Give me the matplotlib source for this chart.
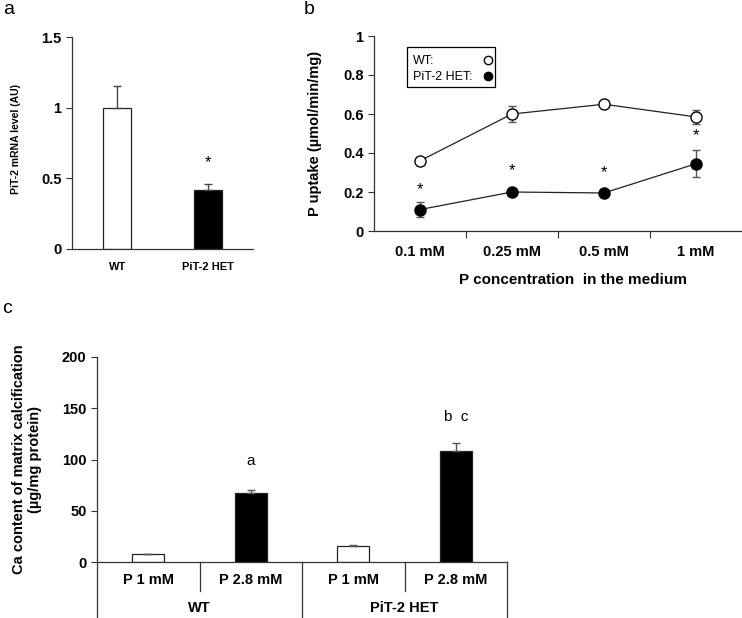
import numpy as np
import matplotlib
matplotlib.use("Agg")
import matplotlib.pyplot as plt
from matplotlib.patches import Rectangle

plt.rcParams['font.family'] = ['Liberation Sans', 'DejaVu Sans']

# --- Data ---
# panel a: PiT-2 mRNA level
a_groups = ["WT", "PiT-2 HET"]
a_values = [1.0, 0.42]
a_errors = [0.15, 0.04]

# panel b: P uptake
b_conc = ["0.1 mM", "0.25 mM", "0.5 mM", "1 mM"]
b_wt = [0.36, 0.60, 0.65, 0.585]
b_wt_err = [0.01, 0.04, 0.01, 0.035]
b_het = [0.11, 0.20, 0.195, 0.345]
b_het_err = [0.04, 0.01, 0.01, 0.07]
b_star_y = [0.21, 0.31, 0.30, 0.49]

# panel c: Ca content
c_conds = ["P 1 mM", "P 2.8 mM", "P 1 mM", "P 2.8 mM"]
c_genotypes = ["WT", "PiT-2 HET"]
c_values = [7.5, 67, 15.5, 108]
c_errors = [0.5, 3, 1, 8]
c_marks = ["", "a", "", "b  c"]
c_mark_y = [0, 92, 0, 135]

W, H = 742, 618
fig = plt.figure(figsize=(W / 100, H / 100), dpi=100)


def px_axes(x0, x1, y0, y1):
    # pixel box (left, right, top, bottom) -> figure fraction
    return fig.add_axes([x0 / W, 1 - y1 / H, (x1 - x0) / W, (y1 - y0) / H])


def style(ax):
    for s in ["top", "right"]:
        ax.spines[s].set_visible(False)
    for s in ["left", "bottom"]:
        ax.spines[s].set_color("#333333")
        ax.spines[s].set_linewidth(0.9)
    ax.tick_params(axis="y", direction="out", length=4, width=0.8, color="#333333")


# ---------- panel a ----------
axa = px_axes(72, 253, 37, 249)
style(axa)
xa = np.arange(len(a_groups))
axa.bar(xa, a_values, width=0.31, color=["white", "black"], edgecolor="#222222", linewidth=0.9,
        yerr=[[0, 0], a_errors], error_kw=dict(ecolor="#444444", elinewidth=1, capsize=3, capthick=1))
axa.set_xlim(-0.5, 1.5)
axa.set_ylim(0, 1.5)
axa.set_yticks([0, 0.5, 1, 1.5])
axa.set_yticklabels(["0", "0.5", "1", "1.5"], fontsize=10.5, fontweight="bold")
axa.set_xticks(xa)
axa.set_xticklabels(a_groups, fontsize=8, fontweight="bold")
axa.tick_params(axis="x", length=0, pad=9)
axa.set_ylabel("PiT-2 mRNA level (AU)", fontsize=7.5, fontweight="bold")
axa.yaxis.set_label_coords(-0.28, 0.52)
axa.text(1, a_values[1] + 0.19, "*", ha="center", va="center", fontsize=12)

# ---------- panel b ----------
axb = px_axes(374, 742, 36, 231)
style(axb)
xb = np.arange(len(b_conc))
axb.errorbar(xb, b_wt, yerr=b_wt_err, color="#222222", lw=0.9, marker="o", ms=8,
             mfc="white", mec="black", mew=1, ecolor="#555555", elinewidth=1, capsize=3)
axb.errorbar(xb, b_het, yerr=b_het_err, color="#222222", lw=0.9, marker="o", ms=8,
             mfc="black", mec="black", mew=1, ecolor="#555555", elinewidth=1, capsize=3)
for x, y in zip(xb, b_star_y):
    axb.text(x, y, "*", ha="center", va="center", fontsize=12)
axb.set_xlim(-0.5, 3.5)
axb.set_ylim(0, 1)
axb.set_yticks(np.arange(0, 1.01, 0.2))
axb.set_yticklabels(["0", "0.2", "0.4", "0.6", "0.8", "1"], fontsize=10.5, fontweight="bold")
axb.set_xticks([0.5, 1.5, 2.5])
axb.set_xticklabels([])
axb.set_xticks(xb, minor=True)
axb.set_xticklabels(b_conc, minor=True, fontsize=10.5, fontweight="bold")
axb.tick_params(axis="x", which="major", direction="out", length=5, width=0.8, color="#333333")
axb.tick_params(axis="x", which="minor", length=0, pad=10)
axb.set_ylabel("P uptake (\u00b5mol/min/mg)", fontsize=10.5, fontweight="bold")
axb.yaxis.set_label_coords(-0.14, 0.5)
axb.text(0.54, -0.25, "P concentration  in the medium", transform=axb.transAxes,
         ha="center", va="center", fontsize=11, fontweight="bold")

# legend box drawn by hand: label on the left, marker in a right-hand column
axb.add_patch(Rectangle((0.09, 0.738), 0.24, 0.206, transform=axb.transAxes, fill=False,
                        edgecolor="black", lw=0.9, clip_on=False))
for ty, face, lab in [(0.872, "white", "WT:"), (0.79, "black", "PiT-2 HET:")]:
    axb.text(0.105, ty, lab, transform=axb.transAxes, ha="left", va="center", fontsize=9)
    axb.plot([0.31], [ty + 0.005], transform=axb.transAxes, ls="None", marker="o", ms=6,
             mfc=face, mec="black", mew=1, clip_on=False)

# ---------- panel c ----------
axc = px_axes(97, 507, 357, 562)
style(axc)
xc = np.arange(len(c_conds))
axc.bar(xc, c_values, width=0.31, color=["white", "black", "white", "black"], edgecolor="#222222",
        linewidth=0.9, yerr=[[0] * 4, c_errors],
        error_kw=dict(ecolor="#555555", elinewidth=1, capsize=3, capthick=1))
for x, m, y in zip(xc, c_marks, c_mark_y):
    if m:
        axc.text(x, y, m, ha="center", va="bottom", fontsize=11)
axc.set_xlim(-0.5, 3.5)
axc.set_ylim(0, 200)
axc.set_yticks([0, 50, 100, 150, 200])
axc.set_yticklabels(["0", "50", "100", "150", "200"], fontsize=10.5, fontweight="bold")
axc.set_xticks([])
tr = axc.get_xaxis_transform()
for xb_ in [-0.5, 1.5, 3.5]:
    axc.plot([xb_, xb_], [0, -0.28], transform=tr, color="#333333", lw=0.9, clip_on=False)
for xb_ in [0.5, 2.5]:
    axc.plot([xb_, xb_], [0, -0.14], transform=tr, color="#333333", lw=0.9, clip_on=False)
for x, lab in zip(xc, c_conds):
    axc.text(x, -0.09, lab, transform=tr, ha="center", va="center", fontsize=10.5,
             fontweight="bold")
for i, g in enumerate(c_genotypes):
    axc.text(2 * i + 0.5, -0.225, g, transform=tr, ha="center", va="center", fontsize=10.5,
             fontweight="bold")
axc.set_ylabel("Ca content of matrix calcification\n(\u00b5g/mg protein)", fontsize=10.5,
               fontweight="bold", linespacing=1.15)
axc.yaxis.set_label_coords(-0.135, 0.5)

# panel letters
fig.text(3 / W, 1 - 1 / H, "a", ha="left", va="top", fontsize=14)
fig.text(304 / W, 1 - 1 / H, "b", ha="left", va="top", fontsize=14)
fig.text(2 / W, 1 - 300 / H, "c", ha="left", va="top", fontsize=14)

fig.savefig("out.png", dpi=100)
